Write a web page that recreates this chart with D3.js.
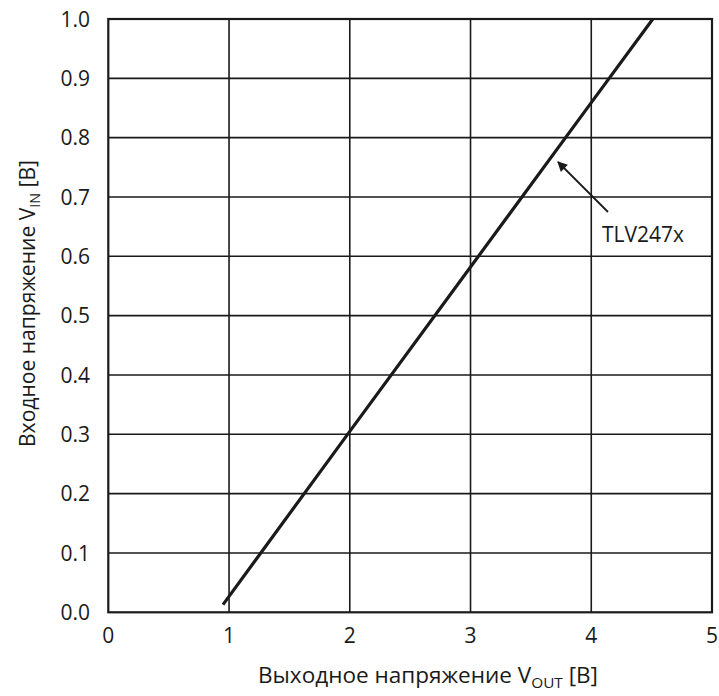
<!DOCTYPE html>
<html><head><meta charset="utf-8">
<script src="https://cdn.jsdelivr.net/npm/d3@7"></script>
<style>body{margin:0;background:#fff}svg{display:block}text{font-family:"Open Sans",sans-serif;fill:#1a1a1a}</style>
</head><body><svg id="c" width="719" height="696"></svg>
<script>
const xTicks = [0,1,2,3,4,5];
const yTicks = [0,0.1,0.2,0.3,0.4,0.5,0.6,0.7,0.8,0.9,1.0];
const vout = [0.95, 2.0, 3.0, 4.0, 4.51];
const vin  = [0.013, 0.305, 0.582, 0.859, 1.0];
const seriesName = "TLV247x";
const xTitle = ["Выходное напряжение V", "OUT", " [В]"];
const yTitle = ["Входное напряжение V", "IN", " [В]"];

const svg = d3.select("#c");
const x = d3.scaleLinear().domain([0,5]).range([108.3,712]);
const y = d3.scaleLinear().domain([0,1]).range([612.3,19]);
const ink = "#1a1a1a";

// grid
svg.append("g").selectAll("line").data(xTicks.slice(1,-1)).join("line")
  .attr("x1",d=>x(d)).attr("x2",d=>x(d)).attr("y1",y(0)).attr("y2",y(1))
  .attr("stroke",ink).attr("stroke-width",1.6);
svg.append("g").selectAll("line").data(yTicks.slice(1,-1)).join("line")
  .attr("x1",x(0)).attr("x2",x(5)).attr("y1",d=>y(d)).attr("y2",d=>y(d))
  .attr("stroke",ink).attr("stroke-width",1.6);
svg.append("rect").attr("x",x(0)).attr("y",y(1)).attr("width",x(5)-x(0)).attr("height",y(0)-y(1))
  .attr("fill","none").attr("stroke",ink).attr("stroke-width",2.2);

// tick labels
svg.append("g").selectAll("text").data(xTicks).join("text")
  .attr("x",d=>x(d)).attr("y",643).attr("text-anchor","middle")
  .style("font-size","21px").text(d=>d);
svg.append("g").selectAll("text").data(yTicks).join("text")
  .attr("x",90).attr("y",d=>y(d)).attr("dy","0.36em").attr("text-anchor","end")
  .style("font-size","21px").text(d=>d.toFixed(1));

// data line
const pts = vout.map((v,i)=>[v,vin[i]]);
svg.append("path").datum(pts)
  .attr("d",d3.line().x(d=>x(d[0])).y(d=>y(d[1])))
  .attr("fill","none").attr("stroke",ink).attr("stroke-width",3.2);

// annotation arrow
const defs = svg.append("defs");
defs.append("marker").attr("id","ah").attr("viewBox","0 0 10 10").attr("refX",9).attr("refY",5)
  .attr("markerWidth",7).attr("markerHeight",7).attr("markerUnits","userSpaceOnUse").attr("orient","auto")
  .append("path").attr("d","M0,0 L10,5 L0,10 z").attr("fill",ink);
defs.select("marker").attr("markerWidth",14).attr("markerHeight",10);
svg.append("line").attr("x1",608).attr("y1",212).attr("x2",558).attr("y2",162)
  .attr("stroke",ink).attr("stroke-width",1.8).attr("marker-end","url(#ah)");
svg.append("text").attr("x",602).attr("y",242).style("font-size","21px").text(seriesName);

// axis titles
function title(parts, tx, ty, rot, target){
  const t = svg.append("text").attr("transform",`translate(${tx},${ty}) rotate(${rot})`)
    .style("font-size","22px");
  t.append("tspan").text(parts[0]);
  t.append("tspan").attr("dy",5).style("font-size","15px").text(parts[1]);
  t.append("tspan").attr("dy",-5).text(parts[2]);
  const len = t.node().getComputedTextLength();
  if (len>0) t.attr("textLength",target).attr("lengthAdjust","spacingAndGlyphs");
  return t;
}
title(xTitle, 258, 683, 0, 340);
title(yTitle, 35, 447, -90, 287);
</script></body></html>
